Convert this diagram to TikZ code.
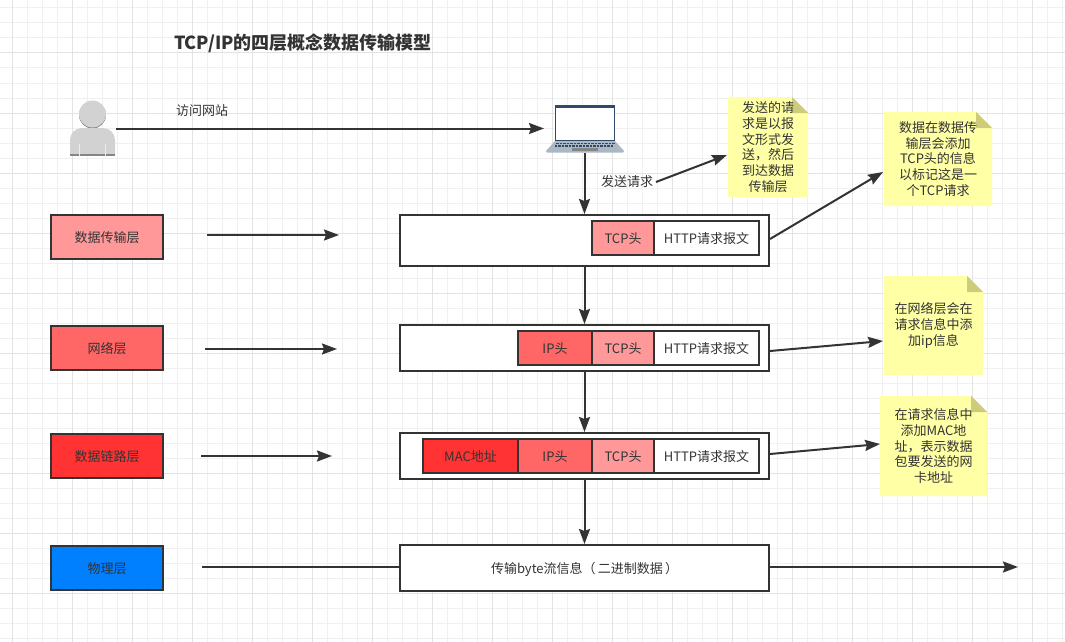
\documentclass[tikz,border=0pt]{standalone}
\usepackage{fontspec}
\setmainfont{Noto Sans CJK SC}
\usetikzlibrary{positioning, arrows.meta}

\definecolor{inkc}{HTML}{333333}
\definecolor{gridminor}{HTML}{F0F0F0}
\definecolor{gridmajor}{HTML}{E3E3E3}
\definecolor{notec}{HTML}{FFFFA6}
\definecolor{foldc}{HTML}{CCCC7A}
\definecolor{tcpc}{HTML}{FF9999}
\definecolor{ipc}{HTML}{FF6666}
\definecolor{macc}{HTML}{FF3333}
\definecolor{physc}{HTML}{007FFF}
\definecolor{skinc}{HTML}{D2D2D2}
\definecolor{skindark}{HTML}{858585}
\definecolor{framec}{HTML}{2F4B6B}
\definecolor{basec}{HTML}{ABB8C3}

\tikzset{
    txt/.style={text=inkc, font=\fontsize{13}{15.8}\selectfont, align=center},
    oneline/.style={txt, text height=13pt, text depth=1.5pt},
    layer/.style={oneline, rectangle, draw=inkc, minimum width=112pt, minimum height=44pt},
    frame/.style={oneline, rectangle, draw=inkc, fill=white, minimum width=369pt},
    cell/.style={oneline, rectangle, draw=inkc, outer sep=0pt, minimum height=34pt, inner sep=0pt},
}

% sticky note: name, left, top, width, height, text
\newcommand{\stickynote}[6]{
    \fill[notec] (#2,#3) -- ++({#4-16},0) -- ++(16,16) -- ++(0,{#5-16}) -- ++({-#4},0) -- cycle;
    \fill[foldc] ({#2+#4-16},#3) -- ++(16,16) -- ++(-16,0) -- cycle;
    \node[txt, minimum width=#4pt, minimum height=#5pt] (#1) at ({#2+#4/2},{#3+#5/2}) {#6};
}

\begin{document}
\begin{tikzpicture}[x=1pt, y=-1pt, line width=2pt, draw=inkc, -{Stealth[length=15pt, width=11pt, inset=2pt]}]
    \useasboundingbox (0,0) rectangle (1065,642);
    \fill[white] (0,0) rectangle (1065,642);

    % background grid
    \foreach \x in {-3,12,...,1065}
        \draw[gridminor, line width=1pt, -] (\x,0) -- (\x,642);
    \foreach \y in {8,23,...,642}
        \draw[gridminor, line width=1pt, -] (0,\y) -- (1065,\y);
    \foreach \x in {12,72,...,1065}
        \draw[gridmajor, line width=1pt, -] (\x,0) -- (\x,642);
    \foreach \y in {53,113,...,642}
        \draw[gridmajor, line width=1pt, -] (0,\y) -- (1065,\y);

    \node[text=inkc, font=\fontsize{18}{20}\selectfont\bfseries] (title) at (303,43) {TCP/IP的四层概念数据传输模型};

    % user
    \node[minimum width=45pt, minimum height=54pt, inner sep=0pt] (user) at (92.5,128.5) {};
    \fill[skindark] (92.5,115) circle (13.5);
    \fill[skinc] (92.5,114) circle (13.5);
    \fill[skinc] (70,155) -- (70,140) arc[start angle=180, end angle=270, radius=12] -- (103,128) arc[start angle=270, end angle=360, radius=12] -- (115,155) -- cycle;
    \fill[skindark] (70,153.5) rectangle (115,156);
    \fill[skinc!40!white] (79,144) rectangle (80,156);
    \fill[skinc!40!white] (105,144) rectangle (106,156);

    % laptop
    \node[minimum width=79pt, minimum height=47pt, inner sep=0pt] (laptop) at (584.5,128.5) {};
    \fill[framec] (555,105) rectangle (615,142);
    \fill[white] (556,108) rectangle (614,140);
    \fill[basec] (555,141) -- (615,141) -- (624,151) -- (623,152.5) -- (547,152.5) -- (546,151) -- cycle;
    \foreach \x in {556,559.5,...,612}
        \fill[framec] (\x,142.5) rectangle ++(2.5,1.5);
    \foreach \x in {554.5,558,...,613}
        \fill[framec] (\x,145) rectangle ++(2.5,1.5);
    \fill[skindark] (572,147.5) rectangle (598,150.5);

    \node[txt] (visit) at (202,111) {访问网站};
    \node[txt, inner sep=2pt] (send) at (627,182) {发送请求};

    % layers
    \node[layer, fill=tcpc] (transport) at (107,237) {数据传输层};
    \node[layer, fill=ipc] (network) at (107,348) {网络层};
    \node[layer, fill=macc] (link) at (107,456) {数据链路层};
    \node[layer, fill=physc] (physical) at (107,568) {物理层};

    % packet frames
    \node[frame, minimum height=51pt] (framea) at (584.5,240.5) {};
    \node[frame, minimum height=46pt] (frameb) at (584.5,348) {};
    \node[frame, minimum height=46pt] (framec) at (584.5,456) {};
    \node[frame, minimum height=46pt] (framed) at (584.5,568) {传输byte流信息（\,二进制数据\,）};

    \node[cell, fill=white, minimum width=105pt] (httpa) at (706.5,238) {HTTP请求报文};
    \node[cell, fill=tcpc, minimum width=62pt, left=0pt of httpa] (tcpa) {TCP头};

    \node[cell, fill=white, minimum width=105pt] (httpb) at (706.5,348) {HTTP请求报文};
    \node[cell, fill=tcpc, minimum width=62pt, left=0pt of httpb] (tcpb) {TCP头};
    \node[cell, fill=ipc, minimum width=74pt, left=0pt of tcpb] (ipb) {IP头};

    \node[cell, fill=white, minimum width=105pt] (httpc) at (706.5,456) {HTTP请求报文};
    \node[cell, fill=tcpc, minimum width=62pt, left=0pt of httpc] (tcpc) {TCP头};
    \node[cell, fill=ipc, minimum width=74pt, left=0pt of tcpc] (ipc) {IP头};
    \node[cell, fill=macc, minimum width=95pt, left=0pt of ipc] (macc) {MAC地址};

    % notes
    \stickynote{notesend}{728}{97}{80}{100}{发送的请\\求是以报\\文形式发\\送，然后\\到达数据\\传输层}
    \stickynote{notetcp}{884}{112}{108}{94}{数据在数据传\\输层会添加\\TCP头的信息\\以标记这是一\\个TCP请求}
    \stickynote{noteip}{884}{276}{99}{99}{在网络层会在\\请求信息中添\\加ip信息}
    \stickynote{notemac}{880}{396}{107}{100}{在请求信息中\\添加MAC地\\址，表示数据\\包要发送的网\\卡地址}

    % free ends
    \coordinate (sendtip) at (727,155);
    \coordinate (tcptip) at (883,172);
    \coordinate (iptip) at (883,341);
    \coordinate (mactip) at (880,444);
    \coordinate (ta) at (207,235);
    \coordinate (tb) at (339,235);
    \coordinate (na) at (205,349);
    \coordinate (nb) at (337,349);
    \coordinate (la) at (201,456);
    \coordinate (lb) at (332,456);
    \coordinate (pa) at (202,567);
    \coordinate (pb) at (400,567);
    \coordinate (pc) at (769,567);
    \coordinate (pd) at (1018,567);
    \coordinate (outa) at (770,239);
    \coordinate (outb) at (770,351);
    \coordinate (outc) at (770,454);

    \path (user) edge (laptop);
    \path (laptop) edge (framea);
    \path (framea) edge (frameb);
    \path (frameb) edge (framec);
    \path (framec) edge (framed);
    \path (send.east) edge (sendtip);
    \path (ta) edge (tb);
    \path (na) edge (nb);
    \path (la) edge (lb);
    \draw[-] (pa) -- (pb);
    \path (pc) edge (pd);
    \path (outa) edge (tcptip);
    \path (outb) edge (iptip);
    \path (outc) edge (mactip);
\end{tikzpicture}
\end{document}
